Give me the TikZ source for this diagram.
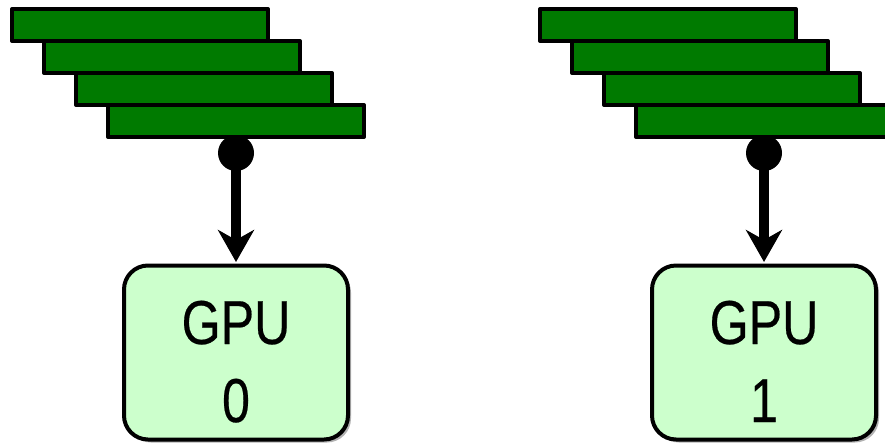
\documentclass[tikz,border=0pt]{standalone}
\usepackage{fontspec}
\setmainfont{Liberation Sans}
\newfontfamily\gpufont[FakeBold=0.4]{Liberation Sans}
\usetikzlibrary{arrows.meta,shadows}
\definecolor{bargreen}{RGB}{0,122,0}
\definecolor{gpugreen}{RGB}{204,255,204}
\begin{document}
\begin{tikzpicture}[x=1pt,y=-1pt,
  bar/.style={draw=black, fill=bargreen, line width=4pt, minimum width=256pt,
    minimum height=32pt, inner sep=0pt, outer sep=0pt, line join=round},
  tap/.style={circle, fill=black, minimum size=36pt, inner sep=0pt, outer sep=0pt},
  gpubox/.style={draw=black, fill=gpugreen, line width=4pt, rounded corners=24pt,
    minimum width=224pt, minimum height=174pt, inner sep=0pt, outer sep=0pt,
    drop shadow={shadow xshift=3pt, shadow yshift=-3pt, opacity=0.3, fill=black}},
  feed/.style={line width=10pt, -{Stealth[length=32pt,width=36pt,inset=10pt]},
    shorten >=3.5pt},
  gputext/.style={font=\gpufont\fontsize{62}{62}\selectfont, inner sep=0pt,
    anchor=base, xscale=0.81}
]
\useasboundingbox (0,0) rectangle (885,445);

% one queue of four staggered buffers feeding a GPU
\foreach \k/\dx in {0/0, 1/528} {
  \node[tap] (tap\k) at (236+\dx,153) {};
  \node[bar] (b\k a) at (140+\dx,25) {};
  \node[bar] (b\k b) at (172+\dx,57) {};
  \node[bar] (b\k c) at (204+\dx,89) {};
  \node[bar] (b\k d) at (236+\dx,121) {};
  \node[gpubox] (gpu\k) at (236+\dx,352.5) {};
  \node[gputext] (gpu\k t) at ([yshift=8.5pt]gpu\k.center) {GPU};
  \node[gputext] (gpu\k n) at ([yshift=-69.5pt]gpu\k.center) {\k};
  \draw[feed] (tap\k.center) -- (gpu\k.north);
}
\end{tikzpicture}
\end{document}
